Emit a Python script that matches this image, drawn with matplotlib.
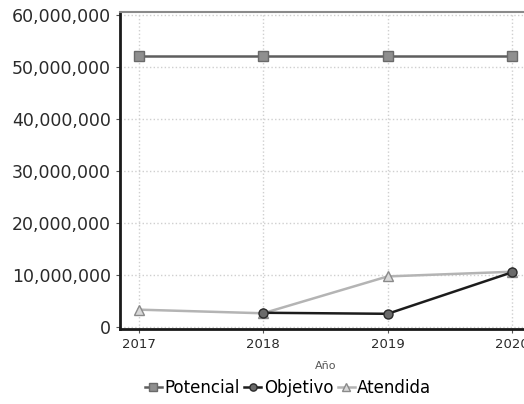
import numpy as np
import matplotlib.pyplot as plt
from matplotlib.ticker import FuncFormatter

plt.rcParams['font.family'] = ['DejaVu Sans']

years = [2017, 2018, 2019, 2020]
potencial = [52200000, 52200000, 52200000, 52200000]
objetivo = [np.nan, 2700000, 2500000, 10500000]
atendida = [3300000, 2600000, 9700000, 10600000]
year_labels = ['2017', '2018', '2019', '2020']

fig = plt.figure(figsize=(5.24, 4.04), dpi=100)
ax = fig.add_axes([0.229, 0.186, 0.784, 0.784])

ax.plot(years, potencial, color='#5e5e5e', lw=1.8, marker='s', ms=6.5,
        mfc='#8f8f8f', mec='#6a6a6a', label='Potencial', zorder=3)
ax.plot(years, objetivo, color='#1c1c1c', lw=1.8, marker='o', ms=6.5,
        mfc='#6a6a6a', mec='#2a2a2a', label='Objetivo', zorder=4)
ax.plot(years, atendida, color='#b4b4b4', lw=1.8, marker='^', ms=7,
        mfc='#d8d8d8', mec='#8a8a8a', label='Atendida', zorder=2)

ax.set_xlim(2016.85, 2020.15)
ax.set_ylim(-400000, 60600000)
ax.set_xticks(years)
ax.set_xticklabels(year_labels)
ax.set_yticks(np.arange(0, 60000001, 10000000))
ax.yaxis.set_major_formatter(FuncFormatter(lambda v, p: '{:,.0f}'.format(v)))

ax.grid(True, linestyle=':', color='#cfcfcf', lw=1)
ax.set_axisbelow(True)

for s in ['left', 'bottom']:
    ax.spines[s].set_color('#1a1a1a')
    ax.spines[s].set_linewidth(2)
ax.spines['top'].set_color('#8a8a8a')
ax.spines['top'].set_linewidth(1.5)
ax.spines['right'].set_visible(False)

ax.tick_params(axis='y', labelsize=12.5, labelcolor='#2a2a2a', color='#555555', length=3)
ax.tick_params(axis='x', labelsize=9.5, labelcolor='#2a2a2a', color='#555555', length=3)
ax.set_xlabel('Año', fontsize=8, color='#555555', labelpad=7)

ax.legend(loc='center', bbox_to_anchor=(0.55, 0.04), bbox_transform=fig.transFigure,
          ncol=3, frameon=False, fontsize=12, handlelength=1.0,
          handletextpad=0.15, columnspacing=0.3, markerscale=0.8)

fig.savefig('out.png', dpi=100)
